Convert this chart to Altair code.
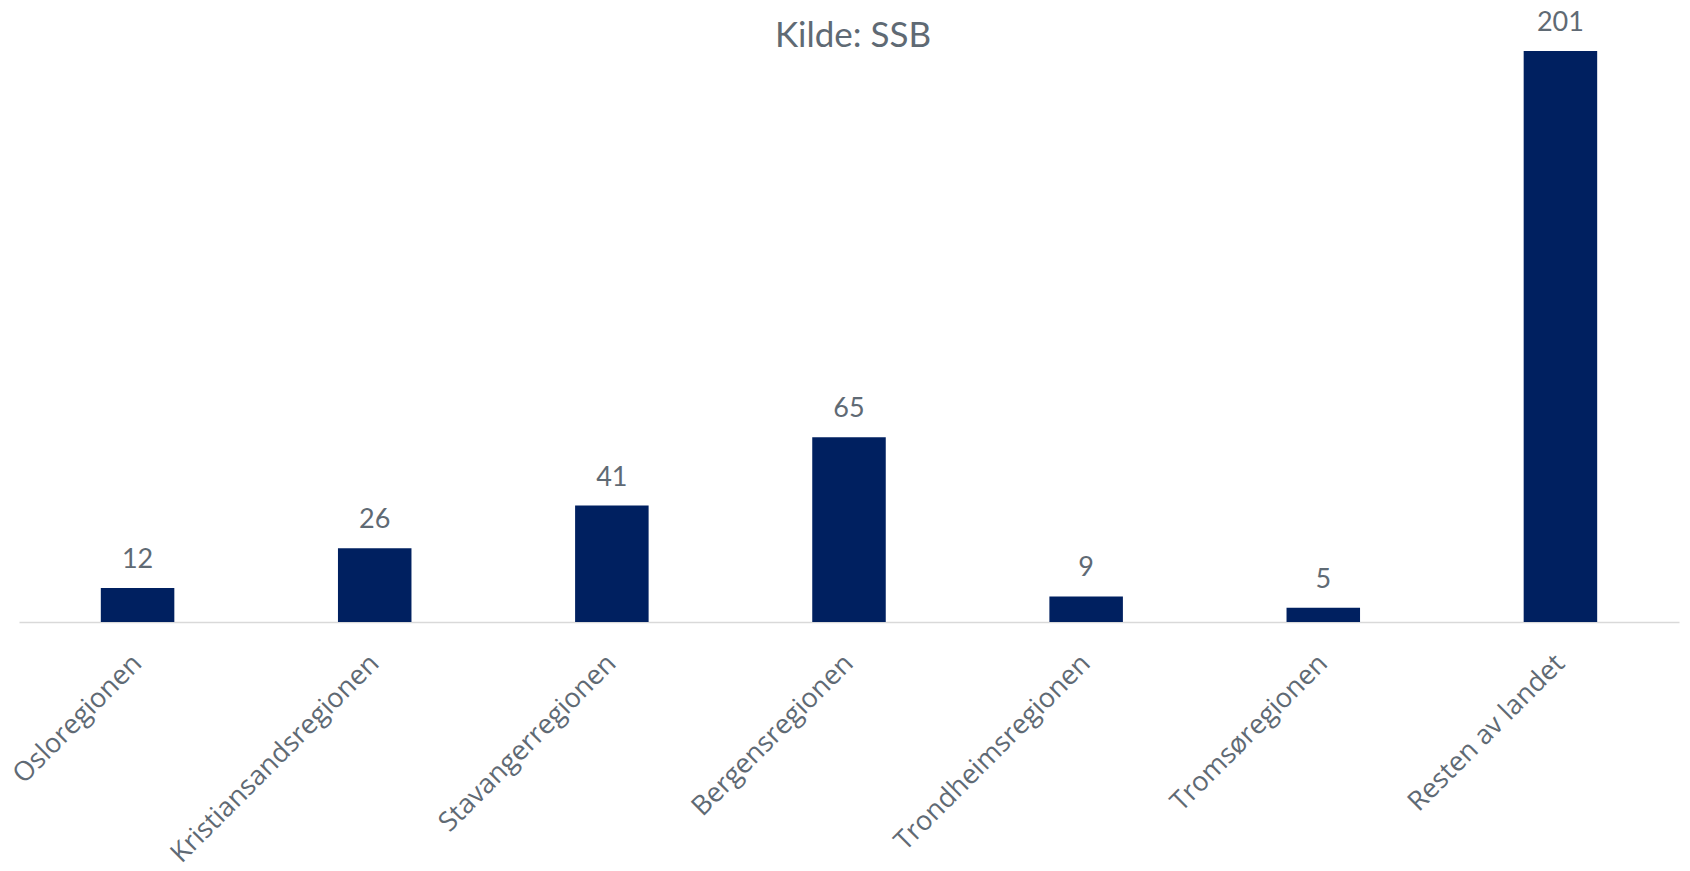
import altair as alt
import pandas as pd

regions = ["Osloregionen", "Kristiansandsregionen", "Stavangerregionen", "Bergensregionen",
           "Trondheimsregionen", "Tromsøregionen", "Resten av landet"]
values = [12, 26, 41, 65, 9, 5, 201]
source_text = ["Kilde: SSB"]

df = pd.DataFrame({"region": regions, "value": values})
title_df = pd.DataFrame({"t": source_text})

text_color = "#5f6a74"

base = alt.Chart(df).encode(
    x=alt.X("region:N", sort=regions,
            scale=alt.Scale(paddingInner=0.69, paddingOuter=0.345),
            axis=alt.Axis(title=None, labelAngle=-45, labelAlign="right", labelBaseline="middle",
                          labelFont="Open Sans", labelFontSize=27, labelColor=text_color,
                          labelPadding=37, ticks=False, domainColor="#d9d9d9", domainWidth=1.5,
                          labelLimit=500)),
    y=alt.Y("value:Q", scale=alt.Scale(domain=[0, 201], nice=False), axis=None),
)

bars = base.mark_bar(color="#002060")
labels = base.mark_text(baseline="middle", dy=-28, font="Lato", fontSize=27, color=text_color).encode(
    text=alt.Text("value:Q")
)

source = alt.Chart(title_df).mark_text(
    baseline="middle", align="center", font="Lato", fontSize=35, color=text_color
).encode(
    x=alt.value(834), y=alt.value(-15), text="t:N"
)

chart = (bars + labels + source).properties(
    width=1660,
    height=571,
    autosize=alt.AutoSizeParams(type="none"),
    padding={"left": 11, "top": 43, "right": 3, "bottom": 241},
).configure_view(stroke=None)

chart.save("out.html", embed_options={"renderer": "svg", "actions": False})
